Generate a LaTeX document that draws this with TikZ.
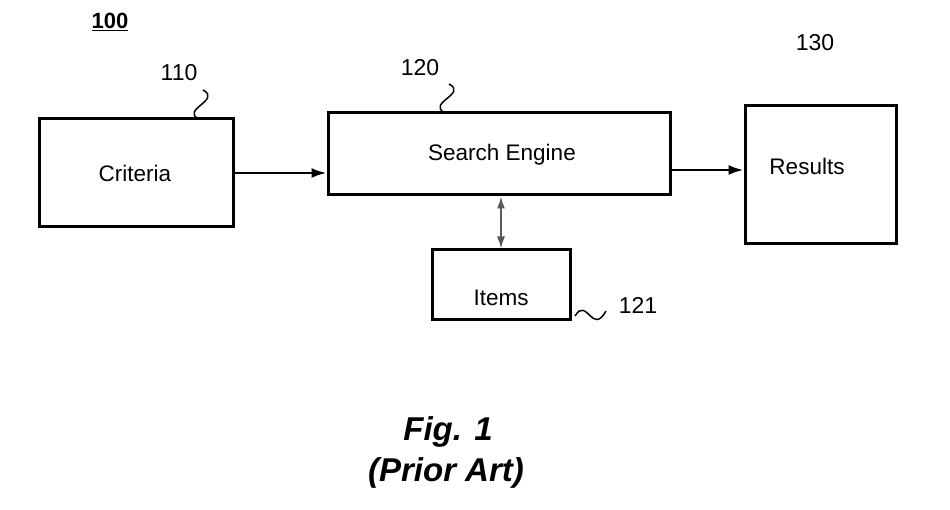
\documentclass[tikz,border=0pt]{standalone}
\usepackage{fontspec}
\setmainfont{Liberation Sans}
\usetikzlibrary{arrows.meta}
\begin{document}
\begin{tikzpicture}[x=1pt,y=-1pt,
  blk/.style={draw,line width=3pt,inner sep=0pt},
  txt/.style={font=\fontsize{22.5}{26}\selectfont},
  num/.style={font=\fontsize{23}{26}\selectfont,inner sep=0pt},
  arr/.style={line width=2.4pt,-{Latex[length=15pt,width=10pt]}},
  squig/.style={line width=1.5pt}]
\useasboundingbox (0,0) rectangle (950,510);
\node[blk,minimum width=194pt,minimum height=108pt] (crit) at (136,173) {};
\node[txt] (critt) at (135,173) {Criteria};
\node[blk,minimum width=342pt,minimum height=82pt] (se) at (499,154) {};
\node[txt] (set) at (502,155) {Search Engine};
\node[blk,minimum width=151pt,minimum height=138pt] (res) at (820.5,175) {};
\node[txt] (rest) at (807,166) {Results};
\node[blk,minimum width=138pt,minimum height=70pt] (items) at (501,285) {};
\node[txt] (itemst) at (501,298) {Items};
\node[font=\bfseries\fontsize{22}{24}\selectfont,inner sep=0pt] (n100) at (110,22) {\underline{100}};
\node[num] (n110) at (179,73) {110};
\node[num] (n120) at (420,68) {120};
\node[num] (n130) at (815,43) {130};
\node[num] (n121) at (638,305) {121};
\draw[arr] (crit.east |- 0,173) -- (se.west |- 0,173);
\draw[arr] (se.east |- 0,170) -- (res.west |- 0,170);
\draw[line width=1.6pt,draw=black!65,{Latex[length=12pt,width=8pt]}-{Latex[length=12pt,width=8pt]}] (se.south -| 501,0) -- (items.north -| 501,0);
\coordinate (s110) at (203,90);
\coordinate (s120) at (449,84);
\coordinate (s121) at (575,316);
\draw[squig] (s110) .. controls (222,100) and (180,110) .. (199,119);
\draw[squig] (s120) .. controls (468,94) and (426,103) .. (445,113);
\draw[squig] (s121) .. controls (587,296) and (592,336) .. (606,311);
\node[font=\bfseries\itshape\fontsize{33}{36}\selectfont] (fig) at (448,432) {Fig. 1};
\node[font=\bfseries\itshape\fontsize{33}{36}\selectfont] (pa) at (446,473) {(Prior Art)};
\end{tikzpicture}
\end{document}
